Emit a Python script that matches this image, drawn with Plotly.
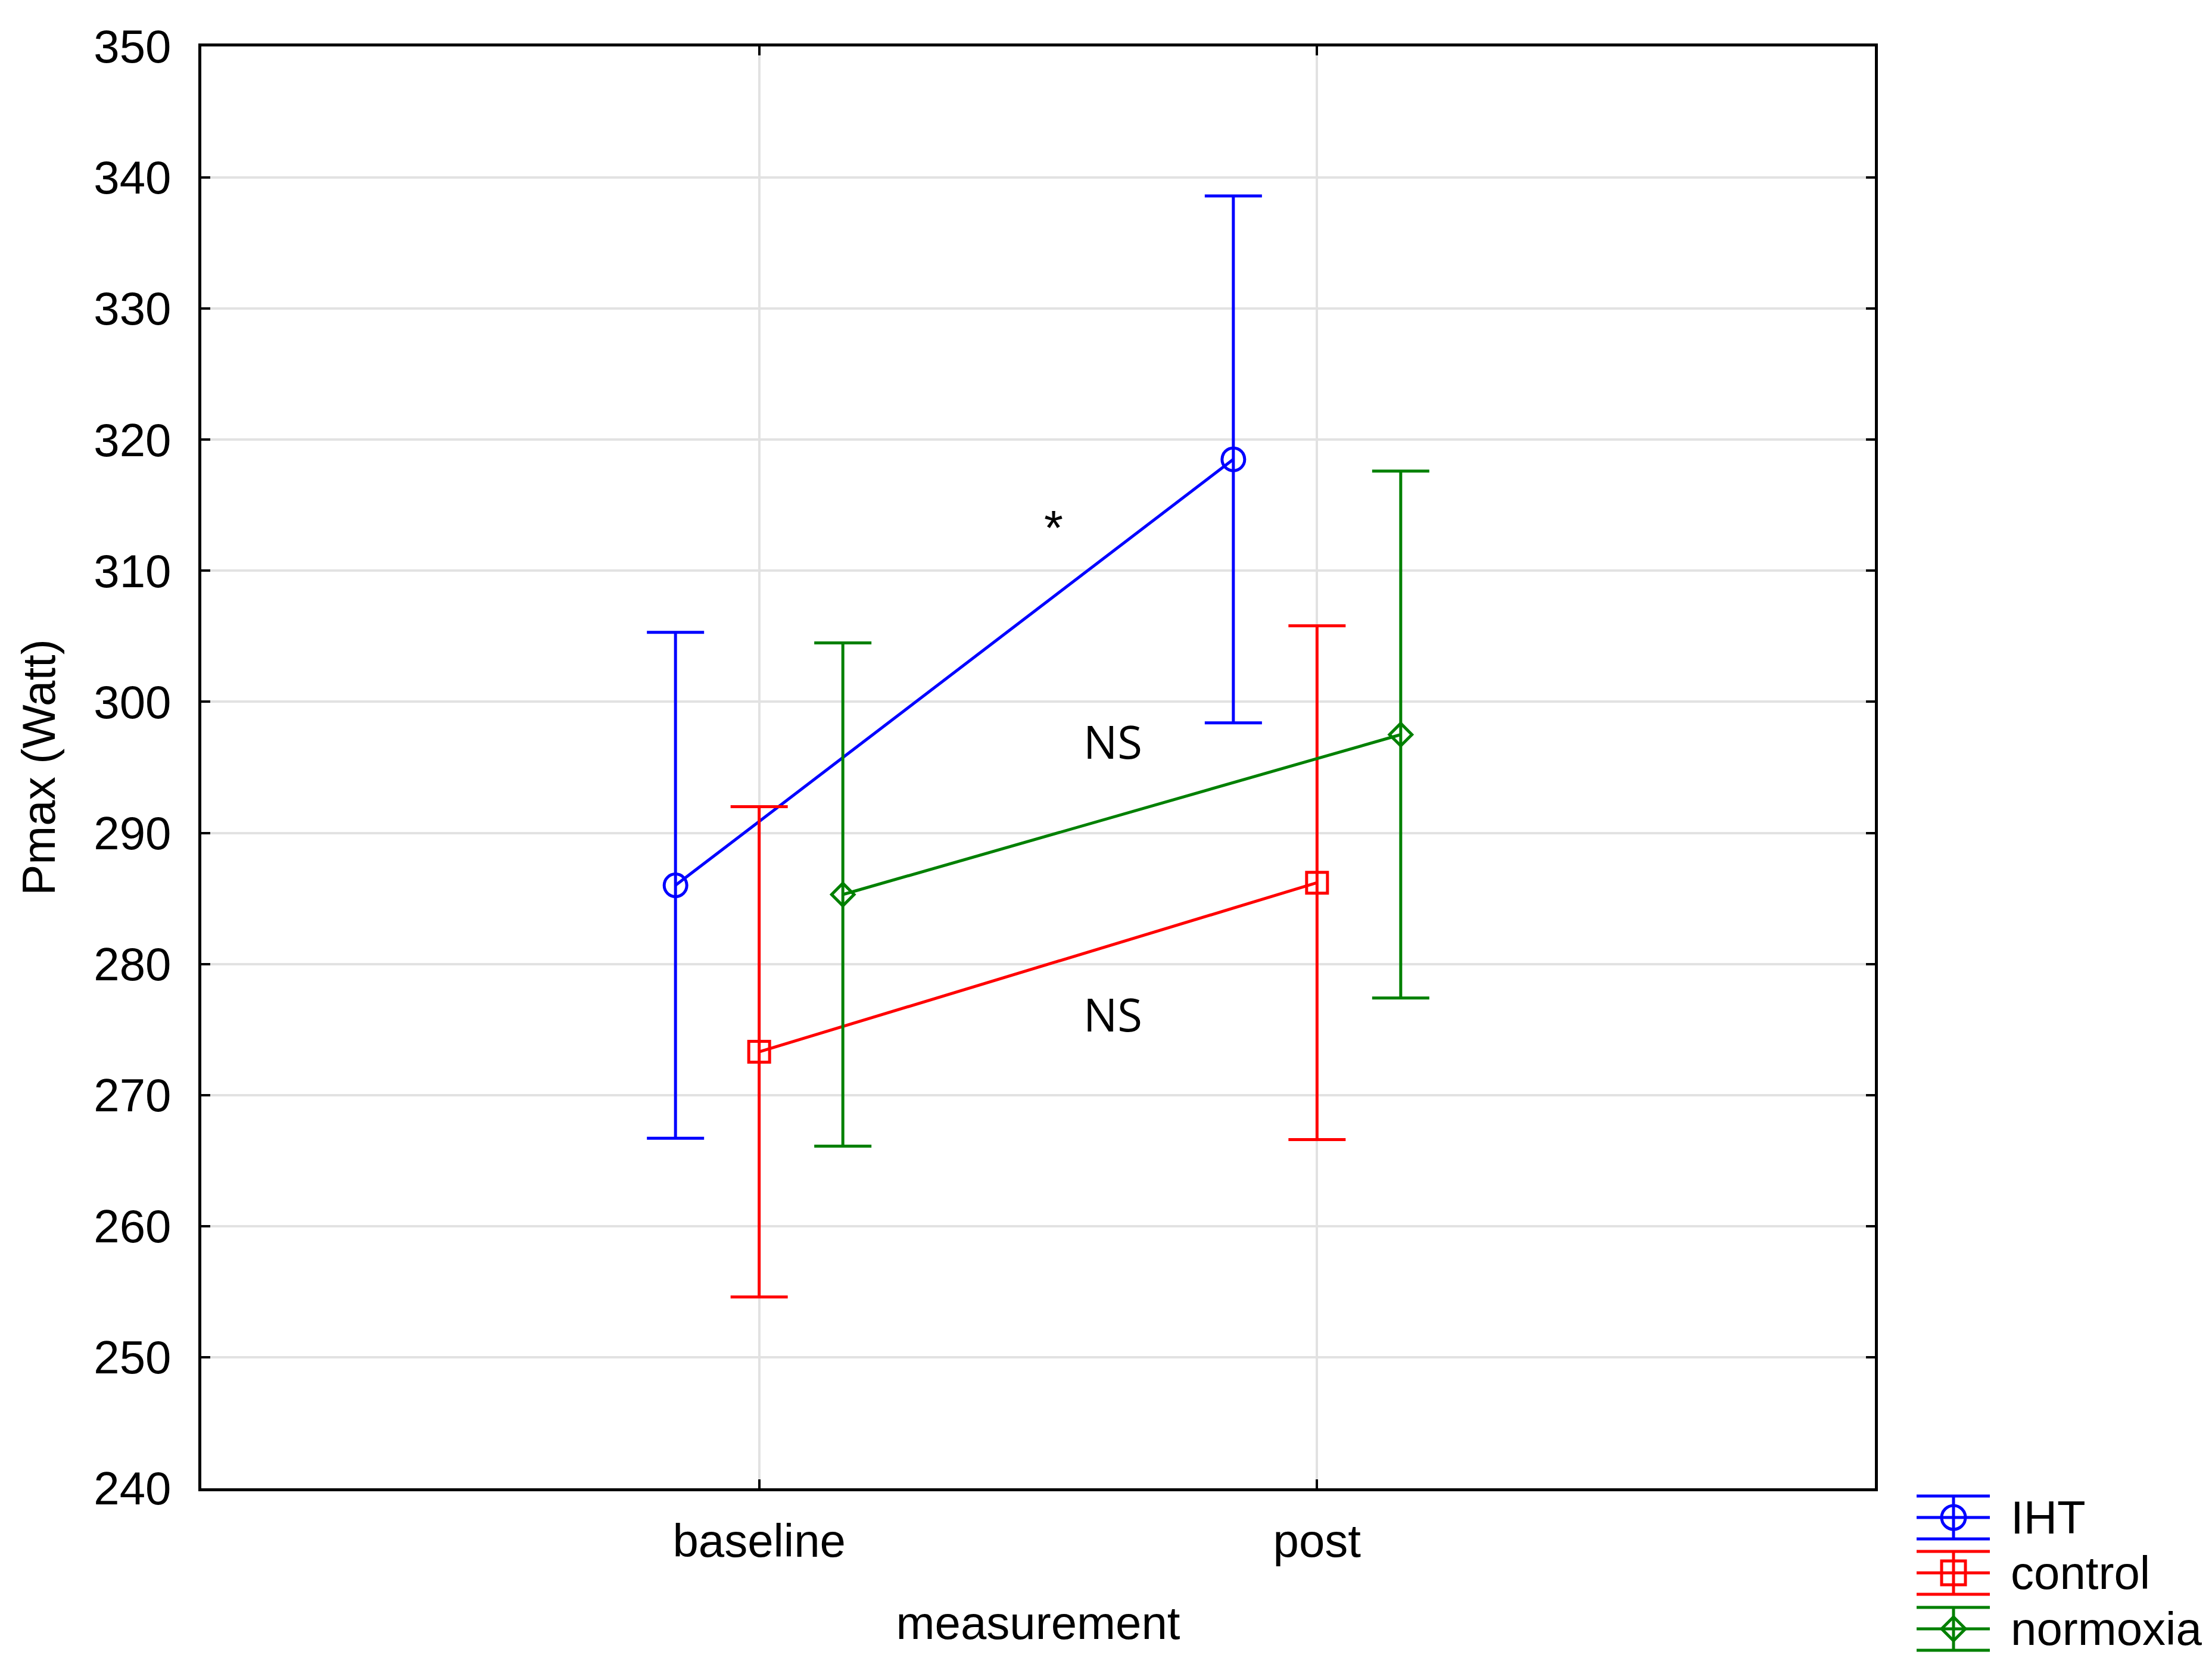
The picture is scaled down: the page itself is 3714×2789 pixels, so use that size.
import plotly.graph_objects as go

# data
measurement = ["baseline", "post"]
groups = ["IHT", "control", "normoxia"]

iht_mean = [286.0, 318.5]
iht_ci = [19.3, 20.1]
control_mean = [273.3, 286.2]
control_ci = [18.7, 19.6]
normoxia_mean = [285.3, 297.5]
normoxia_ci = [19.2, 20.1]

y_ticks = [240, 250, 260, 270, 280, 290, 300, 310, 320, 330, 340, 350]

FONT = "Liberation Sans, Arial, sans-serif"
W, H = 3714, 2789
ML, MR, MT, MB = 330, 574, 70, 298

# styling per group: colour, marker, size, horizontal offset from category
styles = {
    "IHT": dict(color="#0000FF", symbol="circle-open", size=38, offset=-0.15),
    "control": dict(color="#FF0000", symbol="square-open", size=35, offset=0.0),
    "normoxia": dict(color="#008000", symbol="diamond-open", size=29, offset=0.15),
}
means = {"IHT": iht_mean, "control": control_mean, "normoxia": normoxia_mean}
cis = {"IHT": iht_ci, "control": control_ci, "normoxia": normoxia_ci}

fig = go.Figure()
for g in groups:
    s = styles[g]
    xs = [i + s["offset"] for i in range(len(measurement))]
    fig.add_trace(go.Scatter(
        x=xs,
        y=means[g],
        name=g,
        mode="lines+markers",
        line=dict(color=s["color"], width=5),
        marker=dict(symbol=s["symbol"], size=s["size"], color=s["color"],
                    line=dict(color=s["color"], width=5)),
        error_y=dict(type="data", array=cis[g], visible=True,
                     color=s["color"], thickness=5, width=48),
        showlegend=False,
    ))

# significance labels
fig.add_annotation(x=0.528, y=313.3, text="*", showarrow=False,
                   font=dict(family=FONT, size=82, color="black"))
fig.add_annotation(x=0.634, y=297.0, text="NS", showarrow=False,
                   font=dict(family="Open Sans, Noto Sans, sans-serif", size=76, color="black"))
fig.add_annotation(x=0.634, y=276.2, text="NS", showarrow=False,
                   font=dict(family="Open Sans, Noto Sans, sans-serif", size=76, color="black"))


# legend drawn by hand (error-bar style symbols), pixel -> paper helpers
def px_x(px):
    return (px - ML) / (W - ML - MR)


def px_y(py):
    return (H - MB - py) / (H - MT - MB)


leg_x0, leg_x1, leg_cx, leg_text = 3210, 3333, 3272, 3366
leg_centers = [2540, 2633, 2727]
half_h = 36
mk = 20
for g, cy in zip(groups, leg_centers):
    c = styles[g]["color"]
    ln = dict(color=c, width=5)
    for yy in (cy - half_h, cy, cy + half_h):
        fig.add_shape(type="line", xref="paper", yref="paper",
                      x0=px_x(leg_x0), x1=px_x(leg_x1), y0=px_y(yy), y1=px_y(yy), line=ln)
    fig.add_shape(type="line", xref="paper", yref="paper",
                  x0=px_x(leg_cx), x1=px_x(leg_cx), y0=px_y(cy - half_h), y1=px_y(cy + half_h), line=ln)
    sym = styles[g]["symbol"]
    if sym.startswith("circle"):
        fig.add_shape(type="circle", xref="paper", yref="paper",
                      x0=px_x(leg_cx - mk), x1=px_x(leg_cx + mk),
                      y0=px_y(cy - mk), y1=px_y(cy + mk), line=ln)
    elif sym.startswith("square"):
        fig.add_shape(type="rect", xref="paper", yref="paper",
                      x0=px_x(leg_cx - mk), x1=px_x(leg_cx + mk),
                      y0=px_y(cy - mk), y1=px_y(cy + mk), line=ln)
    else:
        fig.add_shape(type="path", xref="paper", yref="paper", line=ln,
                      path="M {} {} L {} {} L {} {} L {} {} Z".format(
                          px_x(leg_cx - mk), px_y(cy), px_x(leg_cx), px_y(cy - mk),
                          px_x(leg_cx + mk), px_y(cy), px_x(leg_cx), px_y(cy + mk)))
    fig.add_annotation(xref="paper", yref="paper", x=px_x(leg_text), y=px_y(cy),
                       xanchor="left", yanchor="middle", text=g, showarrow=False,
                       font=dict(family=FONT, size=78, color="black"))

fig.update_layout(
    width=W,
    height=H,
    margin=dict(l=ML, r=MR, t=MT, b=MB, autoexpand=False),
    paper_bgcolor="white",
    plot_bgcolor="white",
    font=dict(family=FONT, size=78, color="black"),
    showlegend=False,
    xaxis=dict(
        range=[-1, 2],
        tickmode="array",
        tickvals=list(range(len(measurement))),
        ticktext=measurement,
        showgrid=True, gridcolor="#e2e2e2", gridwidth=4,
        zeroline=False,
        showline=True, linecolor="black", linewidth=5, mirror="ticks",
        ticks="inside", ticklen=15, tickwidth=4, tickcolor="black",
        ticklabelstandoff=16,
        tickfont=dict(family=FONT, size=78),
        title=dict(text="measurement", font=dict(family=FONT, size=78), standoff=69),
    ),
    yaxis=dict(
        range=[240, 350],
        tickmode="array",
        tickvals=y_ticks,
        showgrid=True, gridcolor="#e2e2e2", gridwidth=4,
        zeroline=False,
        showline=True, linecolor="black", linewidth=5, mirror="ticks",
        ticks="inside", ticklen=15, tickwidth=4, tickcolor="black",
        ticklabelstandoff=30,
        tickfont=dict(family=FONT, size=78),
        title=dict(text="Pmax (Watt)", font=dict(family=FONT, size=78), standoff=40),
    ),
)

fig.write_html("out.html")
